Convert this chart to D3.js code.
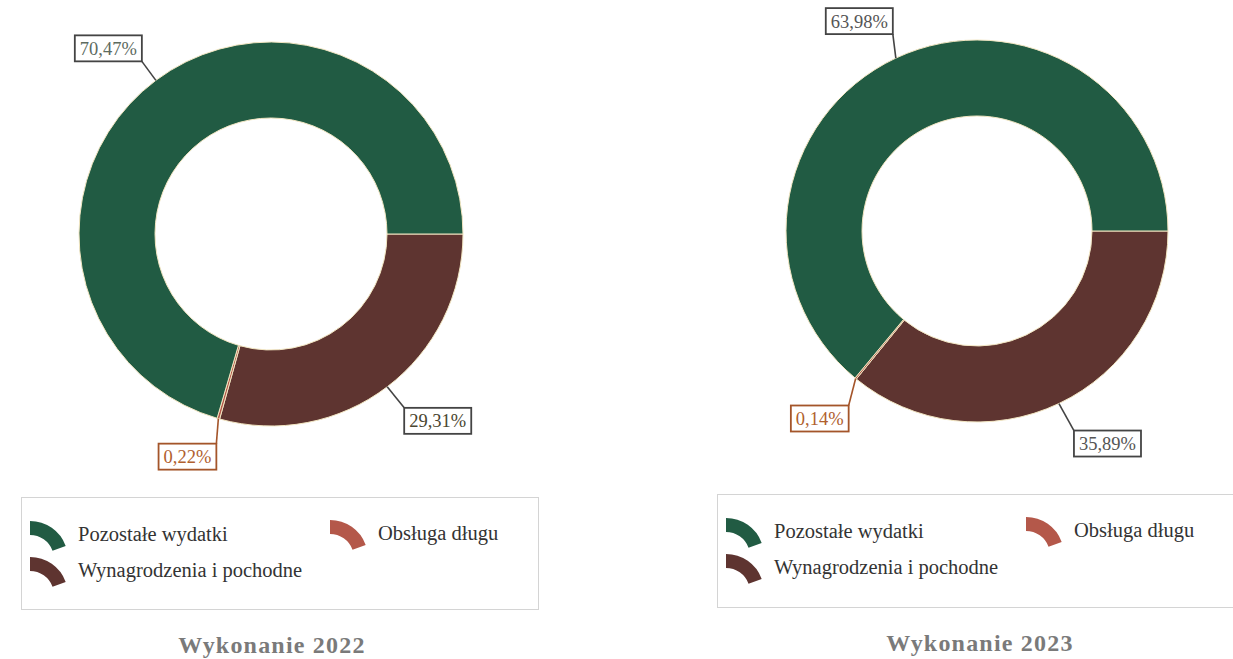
<!DOCTYPE html>
<html><head><meta charset="utf-8">
<script src="https://cdn.jsdelivr.net/npm/d3@7"></script>
<style>
html,body{margin:0;padding:0;background:#fff;}
svg{display:block;}
text{font-family:"Liberation Serif","Times New Roman",serif;}
</style></head>
<body>
<svg id="chart" width="1233" height="659"></svg>
<script>
// ---- data ----
const categories = ["Pozostałe wydatki", "Obsługa długu", "Wynagrodzenia i pochodne"];
const values2022 = [70.47, 0.22, 29.31];
const values2023 = [63.98, 0.14, 35.89];
const titles = ["Wykonanie 2022", "Wykonanie 2023"];
// drawing order around the ring, starting at 3 o'clock, clockwise
const ringOrder = [2, 1, 0];

// ---- styles ----
const colors = ["#215b43", "#b4584a", "#5e3430"];
const labelText = [["#5d6b5f", "#b0602e", "#4a4630"], ["#555555", "#b0602e", "#555555"]];
const labelBorder = ["#444444", "#a4552a", "#444444"];

const pl = d3.formatLocale({decimal: ",", thousands: " ", grouping: [3], currency: ["", " zł"]});
const fmt = v => pl.format(".2f")(v) + "%";

const svg = d3.select("#chart");

const charts = [
  {values: values2022, cx: 271, cy: 234, ro: 192, ri: 116,
   lab: [{dx: -14, dy: -19, corner: "br"}, {dx: -2, dy: 25, corner: "tr"}, {dx: 17, dy: 21, corner: "tl"}],
   legend: {x: 21, y: 497, w: 517, h: 112}, titleX: 272, titleY: 653},
  {values: values2023, cx: 977, cy: 231, ro: 191, ri: 115,
   lab: [{dx: -3, dy: -24, corner: "br"}, {dx: -7, dy: 27, corner: "tr"}, {dx: 15, dy: 27, corner: "tl"}],
   legend: {x: 717, y: 494, w: 530, h: 113}, titleX: 980, titleY: 651}
];

charts.forEach((c, ci) => {
  const g = svg.append("g").attr("transform", `translate(${c.cx},${c.cy})`);
  const pie = d3.pie().sort(null).value(i => c.values[i])
    .startAngle(Math.PI / 2).endAngle(Math.PI / 2 + 2 * Math.PI);
  const arcs = pie(ringOrder);
  const arc = d3.arc().innerRadius(c.ri).outerRadius(c.ro);
  g.selectAll("path.slice").data(arcs).join("path")
    .attr("class", "slice")
    .attr("d", arc)
    .attr("fill", d => colors[d.data])
    .attr("stroke", "#f2e6c2")
    .attr("stroke-width", 1);

  // labels
  const anchorArc = d3.arc().innerRadius(c.ro).outerRadius(c.ro);
  arcs.forEach(d => {
    const i = d.data;
    const [ax, ay] = anchorArc.centroid(d);
    const L = c.lab[i];
    const ex = ax + L.dx, ey = ay + L.dy;
    g.append("line").attr("x1", ax).attr("y1", ay).attr("x2", ex).attr("y2", ey)
      .attr("stroke", labelBorder[i]).attr("stroke-width", 1.6);
    const t = g.append("text").text(fmt(c.values[i]))
      .attr("font-size", 18.5).attr("fill", labelText[ci][i]);
    const bb = t.node().getBBox();
    const padX = 5, h = 26;
    const w = bb.width + padX * 2;
    const bx = L.corner.includes("r") ? ex - w : ex;
    const by = L.corner.includes("b") ? ey - h : ey;
    g.insert("rect", "text:last-of-type")
      .attr("x", bx).attr("y", by).attr("width", w).attr("height", h)
      .attr("fill", "#fff").attr("stroke", labelBorder[i]).attr("stroke-width", 1.8);
    t.attr("x", bx + padX).attr("y", by + 19.5).raise();
  });

  // legend
  const lg = c.legend;
  svg.append("rect").attr("x", lg.x + 0.5).attr("y", lg.y + 0.5).attr("width", lg.w).attr("height", lg.h)
    .attr("fill", "#fff").attr("stroke", "#d4d4d4").attr("stroke-width", 1);
  const legendPos = [{x: lg.x + 9, y: lg.y + 24}, {x: lg.x + 309, y: lg.y + 23}, {x: lg.x + 9, y: lg.y + 60}];
  const iconArc = d3.arc().innerRadius(24).outerRadius(38).startAngle(0).endAngle(1.22);
  categories.forEach((name, i) => {
    const p = legendPos[i];
    svg.append("path").attr("d", iconArc())
      .attr("transform", `translate(${p.x},${p.y + 38})`)
      .attr("fill", colors[i]);
    svg.append("text").attr("x", p.x + 48).attr("y", p.y + 20)
      .attr("font-size", 20.5).attr("fill", "#333").text(name);
  });

  svg.append("text").attr("x", c.titleX).attr("y", c.titleY).attr("text-anchor", "middle")
    .attr("font-size", 24).attr("font-weight", "bold").attr("fill", "#7a7a7a")
    .attr("letter-spacing", 1.2).text(titles[ci]);
});
</script>
</body></html>
